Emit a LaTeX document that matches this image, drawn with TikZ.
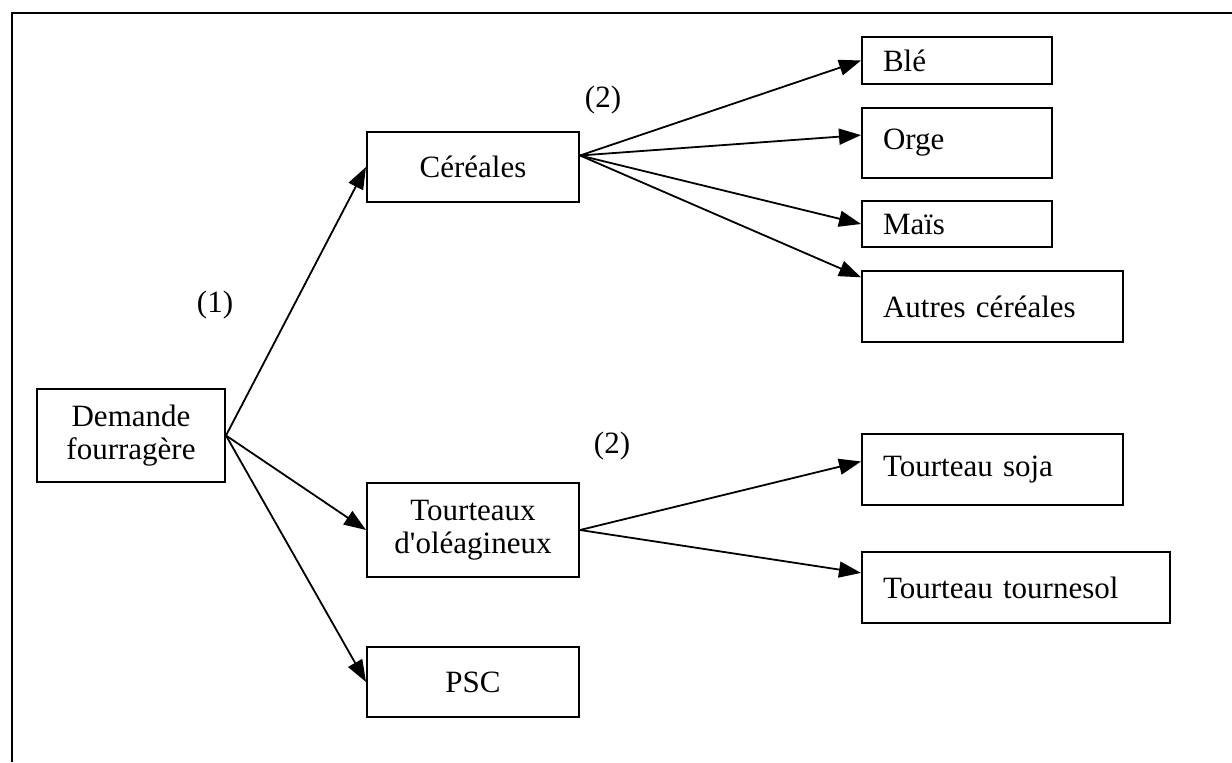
\documentclass[tikz,border=0pt]{standalone}
\usepackage{fontspec}
\setmainfont{Liberation Serif}
\usetikzlibrary{arrows.meta,positioning,calc}

\begin{document}
\begin{tikzpicture}[x=0.5pt,y=-0.5pt,>={Triangle[length=11pt,width=8pt]},
  box/.style={draw,line width=1pt,inner sep=0pt,font=\fontsize{15.5}{16.5}\selectfont},
  mid/.style={box,minimum width=106pt,align=center},
  leaf/.style={box,inner xsep=10.5pt,inner ysep=0pt,align=left,text width=#1},
  arr/.style={->,line width=0.9pt},
  tag/.style={font=\fontsize{15.5}{16.5}\selectfont}]
\useasboundingbox (0,0) rectangle (1232,762);
\draw[line width=1.4pt] (12,762) |- (1232,13);
% first level
\node[box,minimum width=94pt,minimum height=46.5pt,align=center] (dem) at (131,435.5) {Demande\\fourragère};
\node[mid,minimum height=35pt] (cer) at (473,167) {Céréales};
\node[mid,minimum height=47pt] (tou) at (473,530) {Tourteaux\\d\textquotesingle oléagineux};
\node[mid,minimum height=35pt] (psc) at (473,682) {PSC};
% second level
\node[leaf=74pt,minimum height=23.5pt] (ble) at (957,60.5) {Blé};
\node[leaf=74pt,minimum height=35pt] (orge) at (957,143) {Orge};
\node[leaf=74pt,minimum height=23pt] (mais) at (957,224) {Maïs};
\node[leaf=109.5pt,minimum height=35.5pt] (autres) at (992.5,306.5) {Autres céréales};
\node[leaf=109.5pt,minimum height=35.5pt] (soja) at (992.5,469.5) {Tourteau soja};
\node[leaf=133pt,minimum height=35.5pt] (tourn) at (1016,587.5) {Tourteau tournesol};
% step labels
\node[tag] (lab1) at (215,305) {(1)};
\node[tag] (lab2a) at (603,100) {(2)};
\node[tag] (lab2b) at (612,446) {(2)};
% arrows
\draw[arr] (dem.east)--(cer.west);
\draw[arr] (dem.east)--(tou.west);
\draw[arr] (dem.east)--(psc.west);
\coordinate (cerout) at ($(cer.north east)!0.34!(cer.south east)$);
\draw[arr] (cerout)--(ble.west);
\draw[arr] (cerout)--($(orge.north west)!0.39!(orge.south west)$);
\draw[arr] (cerout)--(mais.west);
\draw[arr] (cerout)--($(autres.north west)!0.1!(autres.south west)$);
\draw[arr] (tou.east)--($(soja.north west)!0.39!(soja.south west)$);
\draw[arr] (tou.east)--($(tourn.north west)!0.3!(tourn.south west)$);
\end{tikzpicture}
\end{document}
